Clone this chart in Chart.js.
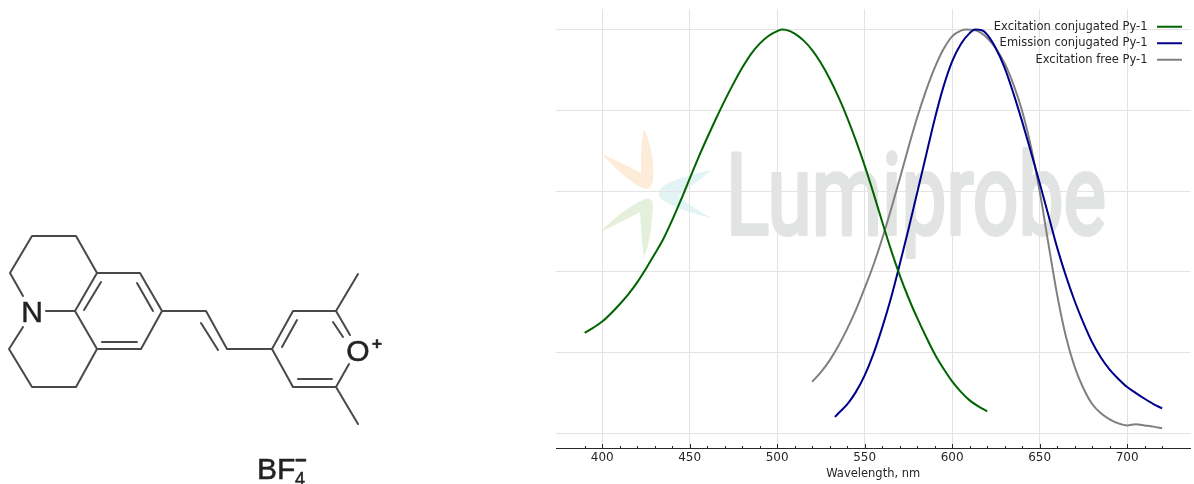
<!DOCTYPE html>
<html lang="en">
<head>
    <meta charset="UTF-8">
    <title>Py-1 spectra</title>
    <script src="https://cdn.jsdelivr.net/npm/chart.js"></script>
    <style>
        body { margin: 0; background: #fff; }
        .page { position: relative; width: 1194px; height: 484px; overflow: hidden; }
        .page svg, .page canvas { position: absolute; left: 0; top: 0; }
    </style>
</head>
<body>
<div class="page">
    <svg width="1194" height="484" viewBox="0 0 1194 484">
        <defs>
            <filter id="soft" x="-5%" y="-5%" width="110%" height="110%"><feGaussianBlur stdDeviation="0.5"/></filter>
        </defs>
        <!-- watermark, sits behind the chart -->
        <g filter="url(#soft)">
            <path fill="#fdecd8" d="M644 129 C650 140 655 165 653 180 C652 188 648 190 643 188 C628 182 612 165 602 154 C615 160 630 167 641 173 C641 158 641 140 644 129Z"/>
            <path fill="#e3f4f5" d="M712 170 C700 172 670 180 662 187 C657 192 658 197 664 201 C675 208 700 216 712 218 C700 212 688 204 678 196 C688 188 702 178 712 170Z"/>
            <path fill="#e5f0dc" d="M600 232 C612 220 630 205 645 199 C650 197 653 200 653 206 C652 222 650 245 644 257 C642 245 641 228 640 212 C628 218 612 227 600 232Z"/>
            <text x="726" y="234" font-family="Roboto" font-size="114" fill="#e2e4e4" stroke="#e2e4e4" stroke-width="4" stroke-linejoin="round" textLength="380" lengthAdjust="spacingAndGlyphs">Lumiprobe</text>
        </g>
        <!-- Py-1 structure -->
        <g fill="none" stroke="#484848" stroke-width="2" stroke-linecap="round" stroke-linejoin="round" filter="url(#soft)">
            <path d="M23 296 L10 273 L32 236 L76 236 L97 273 L75 311 L97 349 L76 387 L32 387 L9 349 L23 327"/>
            <path d="M46 311 L75 311"/>
            <path d="M97 273 L140 273 L162 311 L141 349 L97 349"/>
            <path d="M101 282 L84 310 M137 283 L153 311 M102 342 L137 342"/>
            <path d="M162 311 L206 311 L227 349 L272 349 M201 323 L218 350"/>
            <path d="M272 349 L293 311 L336 311 L350 335 M272 349 L293 387 L336 387 L349 364"/>
            <path d="M297 320 L282 347 M333 322 L343 337 M298 379 L332 379"/>
            <path d="M336 311 L358 274 M336 387 L358 424"/>
        </g>
        <g font-family="Liberation Sans" fill="#222" stroke="#222" stroke-width="0.5" filter="url(#soft)">
            <text x="32" y="322" font-size="30" text-anchor="middle">N</text>
            <text x="358" y="361" font-size="30" text-anchor="middle">O</text>
            <text x="377" y="349" font-size="17" text-anchor="middle" font-weight="bold">+</text>
            <text x="257" y="479" font-size="30">BF</text>
            <text x="295" y="485" font-size="18">4</text>
            <text x="295" y="467" font-size="20" font-weight="bold">−</text>
        </g>
    </svg>
    <canvas id="spectra-chart" width="1194" height="484"></canvas>
</div>

<script>
    const excConjWl = [390, 395, 400, 405, 410, 415, 420, 425, 430, 435, 440, 445, 450, 455, 460, 465, 470, 475, 480, 485, 490, 495, 500, 503, 505, 510, 515, 520, 525, 530, 535, 540, 545, 550, 555, 560, 565, 570, 575, 580, 585, 590, 595, 600, 605, 610, 615, 620];
    const excConjVal = [0.249, 0.262, 0.277, 0.297, 0.32, 0.345, 0.374, 0.408, 0.444, 0.482, 0.528, 0.578, 0.631, 0.683, 0.732, 0.779, 0.824, 0.866, 0.905, 0.939, 0.965, 0.984, 0.996, 1.0, 0.999, 0.99, 0.973, 0.949, 0.917, 0.878, 0.833, 0.782, 0.725, 0.663, 0.595, 0.524, 0.455, 0.392, 0.336, 0.286, 0.24, 0.197, 0.161, 0.129, 0.103, 0.082, 0.067, 0.055];

    const emConjWl = [533, 535, 540, 545, 550, 555, 560, 565, 570, 575, 580, 585, 590, 595, 600, 605, 610, 613, 617, 620, 625, 630, 635, 640, 645, 650, 655, 660, 665, 670, 675, 680, 685, 690, 695, 700, 705, 710, 715, 720];
    const emConjVal = [0.041, 0.05, 0.072, 0.103, 0.144, 0.197, 0.262, 0.335, 0.418, 0.505, 0.596, 0.687, 0.778, 0.858, 0.921, 0.964, 0.991, 1.0, 0.998, 0.987, 0.953, 0.905, 0.842, 0.772, 0.697, 0.62, 0.54, 0.46, 0.39, 0.328, 0.274, 0.226, 0.188, 0.158, 0.135, 0.115, 0.1, 0.086, 0.073, 0.062];

    const excFreeWl = [520, 525, 530, 535, 540, 545, 550, 555, 560, 565, 570, 575, 580, 585, 590, 595, 600, 605, 608, 612, 616, 620, 625, 630, 635, 640, 645, 650, 655, 660, 665, 670, 675, 680, 685, 690, 695, 700, 705, 710, 715, 720];
    const excFreeVal = [0.128, 0.152, 0.181, 0.217, 0.259, 0.306, 0.36, 0.417, 0.482, 0.554, 0.63, 0.708, 0.782, 0.848, 0.905, 0.951, 0.983, 0.997, 1.0, 0.999, 0.993, 0.979, 0.953, 0.916, 0.864, 0.798, 0.71, 0.6, 0.47, 0.343, 0.24, 0.165, 0.112, 0.073, 0.05, 0.035, 0.025, 0.02, 0.023, 0.02, 0.017, 0.013];

    const pairs = (xs, ys) => xs.map((x, i) => ({x: x, y: ys[i]}));

    // matplotlib style ticks, they point into the plot
    const innerTicks = {
        id: 'innerTicks',
        afterDraw(chart) {
            const {ctx, scales, chartArea} = chart;
            ctx.save();
            ctx.strokeStyle = '#262626';
            ctx.lineWidth = 1;
            scales.x.ticks.forEach(t => {
                const px = Math.round(scales.x.getPixelForValue(t.value)) + 0.5;
                ctx.beginPath();
                ctx.moveTo(px, chartArea.bottom);
                ctx.lineTo(px, chartArea.bottom - (t.value % 50 === 0 ? 4 : 2));
                ctx.stroke();
            });
            ctx.restore();
        }
    };

    // legend goes in the top right corner of the plot
    const legendCorner = {
        id: 'legendCorner',
        afterLayout(chart) {
            chart.legend.left = 1187 - chart.legend.width;
            chart.legend.top = 16;
        }
    };

    new Chart(document.getElementById('spectra-chart').getContext('2d'), {
        type: 'line',
        data: {
            datasets: [
                {label: 'Excitation conjugated Py-1', data: pairs(excConjWl, excConjVal), borderColor: '#006400', backgroundColor: '#006400'},
                {label: 'Emission conjugated Py-1', data: pairs(emConjWl, emConjVal), borderColor: '#00008b', backgroundColor: '#00008b'},
                {label: 'Excitation free Py-1', data: pairs(excFreeWl, excFreeVal), borderColor: '#808080', backgroundColor: '#808080'}
            ]
        },
        options: {
            responsive: false,
            animation: false,
            layout: {padding: {left: 556, top: 9, right: 3.5, bottom: 0}},
            elements: {
                point: {radius: 0},
                line: {borderWidth: 2, cubicInterpolationMode: 'monotone'}
            },
            plugins: {
                tooltip: {enabled: false},
                legend: {
                    position: 'chartArea',
                    align: 'start',
                    rtl: true,
                    textDirection: 'ltr',
                    labels: {
                        boxWidth: 25,
                        boxHeight: 2,
                        padding: 5,
                        color: '#262626',
                        font: {family: 'DejaVu Sans', size: 11.5},
                        generateLabels(chart) {
                            return Chart.defaults.plugins.legend.labels.generateLabels(chart).map(item => {
                                item.lineWidth = 0;
                                item.text += '\u2004';
                                return item;
                            });
                        }
                    }
                }
            },
            scales: {
                x: {
                    type: 'linear',
                    min: 373.6,
                    max: 736.2,
                    afterBuildTicks(scale) {
                        scale.ticks = scale.ticks.filter(t => t.value % 10 === 0);
                    },
                    afterFit(scale) { scale.height = 36; },
                    ticks: {
                        stepSize: 10,
                        autoSkip: false,
                        maxRotation: 0,
                        padding: 3,
                        color: '#262626',
                        font: {family: 'DejaVu Sans', size: 12},
                        callback: v => (v % 50 === 0 ? String(v) : '')
                    },
                    grid: {
                        drawTicks: false,
                        color: c => (c.tick && c.tick.value % 50 === 0 ? '#e2e2e2' : 'transparent')
                    },
                    border: {color: '#262626', width: 1},
                    title: {
                        display: true,
                        text: 'Wavelength, nm',
                        padding: {top: 3, bottom: 3},
                        color: '#262626',
                        font: {family: 'DejaVu Sans', size: 11.5}
                    }
                },
                y: {
                    min: -0.0359,
                    max: 1.0507,
                    afterBuildTicks(scale) {
                        scale.ticks = [0, 0.2, 0.4, 0.6, 0.8, 1].map(v => ({value: v}));
                    },
                    afterFit(scale) { scale.width = 0; },
                    ticks: {display: false},
                    grid: {drawTicks: false, color: '#e4e4e4'},
                    border: {display: false}
                }
            }
        },
        plugins: [innerTicks, legendCorner]
    });
</script>
</body>
</html>
